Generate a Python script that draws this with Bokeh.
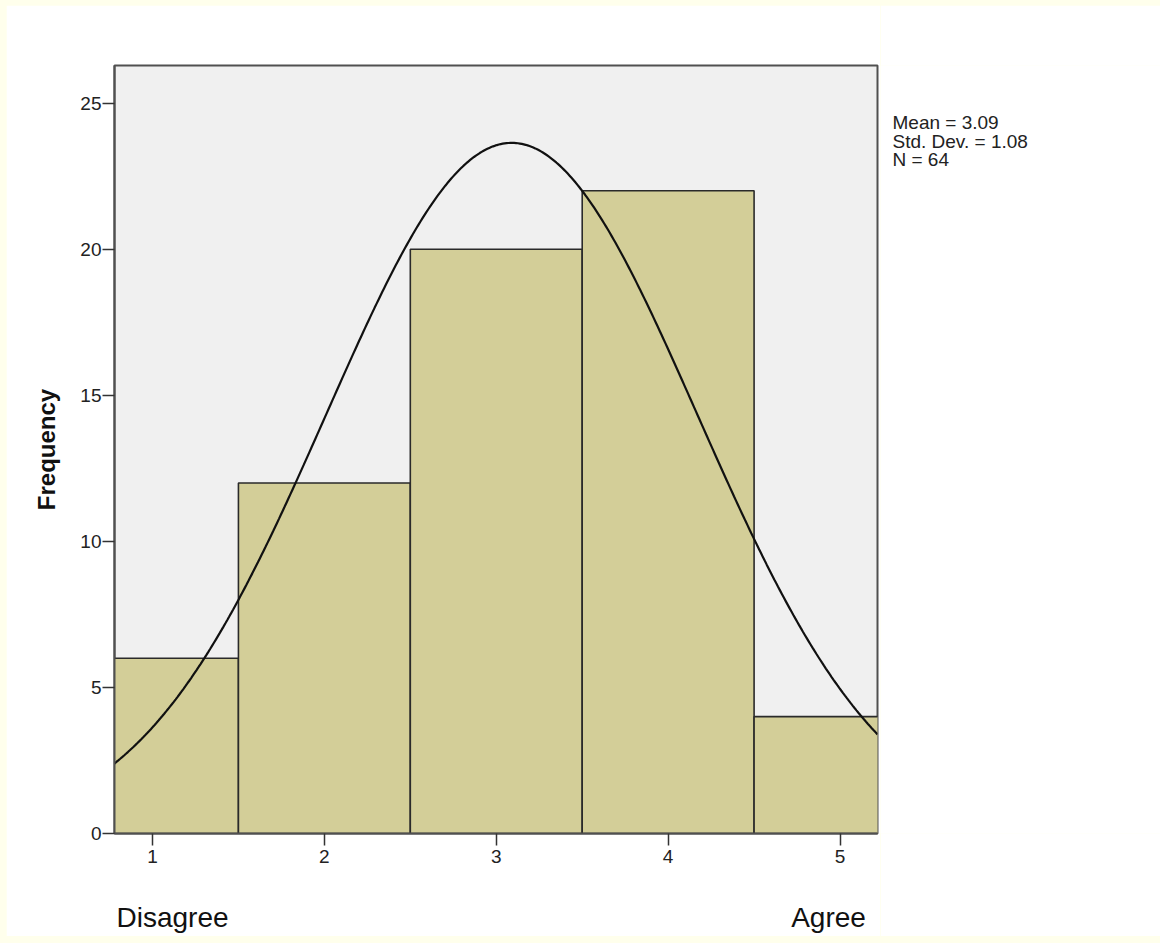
import numpy as np
from bokeh.plotting import figure
from bokeh.layouts import row
from bokeh.models import Range1d, FixedTicker, LinearAxis
from bokeh.core.properties import value
from bokeh.embed import file_html
from bokeh.resources import INLINE

# ---- data ----
categories = [1, 2, 3, 4, 5]
frequencies = [6, 12, 20, 22, 4]
stat_mean = 3.09
stat_sd = 1.08
stat_n = 64
y_ticks = [0, 5, 10, 15, 20, 25]
stats_lines = ["Mean = 3.09", "Std. Dev. = 1.08", "N = 64"]
low_label = "Disagree"
high_label = "Agree"

FONT = "Liberation Sans"
BAND = "#FFFFEC"
X0, X1 = 0.779, 5.218
Y0, Y1 = 0.0, 26.29

TOP_BAND, LEFT_BAND, BOT_BAND = 5, 6, 7
SIDE_W = 280
MAIN_W = 1160 - LEFT_BAND - SIDE_W
ROW_H = 943 - TOP_BAND - BOT_BAND
B_TOP = 65 - TOP_BAND
B_BOT = ROW_H + TOP_BAND - 833
B_LEFT = 114 - LEFT_BAND
FRAME_W = MAIN_W - B_LEFT - 3

p = figure(width=MAIN_W, height=ROW_H,
           x_range=Range1d(X0, X1), y_range=Range1d(Y0, Y1),
           output_backend="svg", toolbar_location=None,
           min_border_left=B_LEFT, min_border_right=3,
           min_border_top=B_TOP, min_border_bottom=B_BOT,
           margin=(TOP_BAND, 0, BOT_BAND, LEFT_BAND))

p.background_fill_color = "#F0F0F0"
p.border_fill_color = "white"
p.outline_line_color = "#505050"
p.outline_line_width = 2
p.xgrid.visible = False
p.ygrid.visible = False

cats = np.array(categories, dtype=float)
p.quad(left=cats - 0.5, right=cats + 0.5, bottom=0, top=frequencies,
       fill_color="#D3CE98", line_color="#2a2a2a", line_width=1.6)

# fitted normal curve (defined by the stated mean, sd and N, bin width 1)
xs = np.linspace(X0, X1, 400)
ys = stat_n * 1.0 / (stat_sd * np.sqrt(2 * np.pi)) * np.exp(-0.5 * ((xs - stat_mean) / stat_sd) ** 2)
p.line(xs, ys, line_color="#111111", line_width=2.2)

for ax in (p.xaxis[0], p.yaxis[0]):
    ax.axis_line_color = "#505050"
    ax.axis_line_width = 2
    ax.major_tick_line_color = "#333333"
    ax.major_tick_line_width = 1.5
    ax.major_tick_out = 12
    ax.major_tick_in = 0
    ax.minor_tick_line_color = None
    ax.major_label_text_font = FONT
    ax.major_label_text_font_size = "19px"
    ax.major_label_text_color = "#222222"

p.xaxis.ticker = FixedTicker(ticks=categories)
p.yaxis.ticker = FixedTicker(ticks=y_ticks)
p.xaxis.major_label_standoff = 4
p.yaxis.major_label_standoff = 1
p.yaxis.axis_label = "Frequency"
p.yaxis.axis_label_text_font = FONT
p.yaxis.axis_label_text_font_style = "bold"
p.yaxis.axis_label_text_font_size = "24px"
p.yaxis.axis_label_text_color = "#111111"
p.yaxis.axis_label_standoff = 17

# second, label-only axis below for the scale anchors (pixel range across the frame)
p.extra_x_ranges = {"anchor": Range1d(0, FRAME_W)}
low_pos, high_pos = 58, 714
anchor_axis = LinearAxis(x_range_name="anchor",
                         ticker=FixedTicker(ticks=[low_pos, high_pos]),
                         major_label_overrides={low_pos: low_label, high_pos: high_label},
                         axis_line_color=None, major_tick_line_color=None,
                         minor_tick_line_color=None, major_tick_out=0, major_tick_in=0,
                         major_label_standoff=36,
                         major_label_text_font=FONT,
                         major_label_text_font_size="28px",
                         major_label_text_color="#111111")
p.add_layout(anchor_axis, "below")

# stats text panel on the right (frame aligned with the main frame)
ps = figure(width=SIDE_W, height=ROW_H, x_range=Range1d(0, SIDE_W),
            y_range=Range1d(0, ROW_H - B_TOP - B_BOT),
            output_backend="svg", toolbar_location=None,
            x_axis_type=None, y_axis_type=None,
            min_border_left=0, min_border_right=0,
            min_border_top=B_TOP, min_border_bottom=B_BOT,
            margin=(TOP_BAND, 0, BOT_BAND, 0))
ps.outline_line_color = None
ps.background_fill_color = "white"
ps.border_fill_color = "white"
stat_baselines_page = [122, 140.5, 159]
ps.text(x=[892 - (LEFT_BAND + MAIN_W)] * 3,
        y=[833 - b for b in stat_baselines_page], text=stats_lines,
        text_font=value(FONT), text_font_size="19px", text_color="#222222",
        text_baseline="alphabetic")

layout = row(p, ps, spacing=0, styles={"background-color": BAND})
open("out.html", "w").write(file_html(layout, INLINE))
